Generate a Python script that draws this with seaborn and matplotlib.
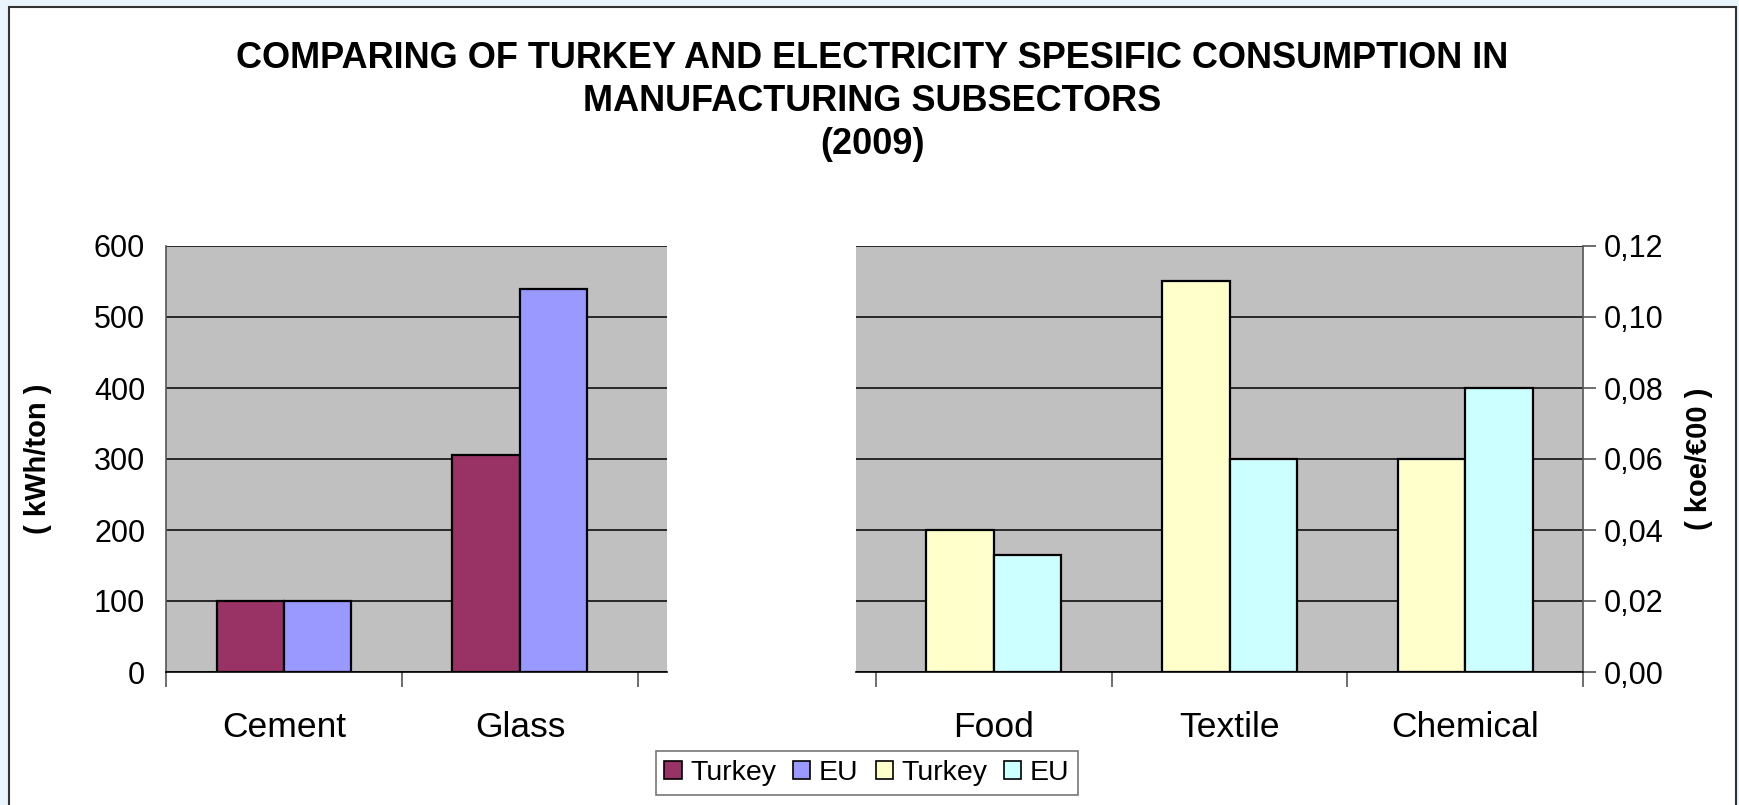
import matplotlib
matplotlib.use("Agg")
import matplotlib.pyplot as plt
import matplotlib.patches as mpatches
from matplotlib.ticker import FuncFormatter, FixedLocator
import seaborn as sns
import pandas as pd

# left chart: electricity (kWh/ton)
left_sectors = ['Cement', 'Glass']
left_turkey = [100, 306]
left_eu = [100, 540]

# right chart: energy (koe/€000)
right_sectors = ['Food', 'Textile', 'Chemical']
right_turkey = [0.040, 0.110, 0.060]
right_eu = [0.033, 0.060, 0.080]

left_ticks = [0, 100, 200, 300, 400, 500, 600]
right_ticks = [0.00, 0.02, 0.04, 0.06, 0.08, 0.10, 0.12]

left_colors = ['#993366', '#9999FF']
right_colors = ['#FFFFCC', '#CCFFFF']

left_df = pd.DataFrame({
    'sector': left_sectors * 2,
    'country': ['Turkey'] * len(left_sectors) + ['EU'] * len(left_sectors),
    'value': left_turkey + left_eu,
})
right_df = pd.DataFrame({
    'sector': right_sectors * 2,
    'country': ['Turkey'] * len(right_sectors) + ['EU'] * len(right_sectors),
    'value': right_turkey + right_eu,
})

sns.set_style("white")
plt.rcParams['font.family'] = ['Liberation Sans', 'DejaVu Sans']
plt.rcParams['text.color'] = 'black'
plt.rcParams['axes.labelcolor'] = 'black'
plt.rcParams['xtick.color'] = 'black'
plt.rcParams['ytick.color'] = 'black'

fig = plt.figure(figsize=(17.39, 8.05), dpi=100, facecolor='#EAF4FC')
# white chart area with dark frame
fig.patches.append(mpatches.Rectangle((9 / 1739, -0.01), 1727 / 1739, 1 - 7 / 805 + 0.01,
                                      transform=fig.transFigure, facecolor='white',
                                      edgecolor='#333333', linewidth=1.5, zorder=-1))

ax1 = fig.add_axes([166 / 1739, 1 - 672 / 805, 501 / 1739, 426 / 805])
ax2 = fig.add_axes([856 / 1739, 1 - 672 / 805, 727 / 1739, 426 / 805])

sns.barplot(data=left_df, x='sector', y='value', hue='country', palette=left_colors,
            saturation=1, width=0.572, edgecolor='black', linewidth=1.6, legend=False,
            ax=ax1, zorder=3)
sns.barplot(data=right_df, x='sector', y='value', hue='country', palette=right_colors,
            saturation=1, width=0.572, edgecolor='black', linewidth=1.6, legend=False,
            ax=ax2, zorder=3)

for ax, ticks, n in [(ax1, left_ticks, len(left_sectors)), (ax2, right_ticks, len(right_sectors))]:
    ax.set_facecolor('#C0C0C0')
    ax.set_ylim(ticks[0], ticks[-1])
    ax.set_yticks(ticks)
    ax.grid(axis='y', color='black', linewidth=1.1, zorder=1)
    ax.set_axisbelow(True)
    ax.set_xlabel('')
    ax.xaxis.set_minor_locator(FixedLocator([i - 0.5 for i in range(n + 1)]))
    ax.tick_params(axis='x', which='major', length=0, pad=28, labelsize=25.5)
    ax.tick_params(axis='x', which='minor', length=11, width=1.2, color='#555555', bottom=True)
    ax.tick_params(axis='y', length=9, width=1.2, color='#555555', labelsize=22, pad=6)
    ax.spines['top'].set_visible(False)
    ax.spines['bottom'].set_color('black')
    ax.spines['bottom'].set_linewidth(1.2)

ax1.set_xlim(-0.5, 1.623)
ax1.spines['right'].set_visible(False)
ax1.spines['left'].set_color('#555555')
ax1.spines['left'].set_linewidth(1.2)
ax1.set_ylabel('( kWh/ton )', fontsize=21, fontweight='bold', labelpad=30)

ax2.set_xlim(-0.585, 2.5)
ax2.spines['left'].set_visible(False)
ax2.spines['right'].set_color('#555555')
ax2.spines['right'].set_linewidth(1.2)
ax2.yaxis.tick_right()
ax2.yaxis.set_label_position('right')
ax2.yaxis.set_major_formatter(FuncFormatter(lambda v, p: f'{v:.2f}'.replace('.', ',')))
ax2.set_ylabel('( koe/€00 )', fontsize=21, fontweight='bold', rotation=90, labelpad=15)

fig.text(0.5015, 1 - 41 / 805,
         'COMPARING OF TURKEY AND ELECTRICITY SPESIFIC CONSUMPTION IN\nMANUFACTURING SUBSECTORS\n(2009)',
         ha='center', va='top', fontsize=26, fontweight='bold', linespacing=1.3)

handles = [mpatches.Patch(facecolor=c, edgecolor='black', linewidth=1.2, label=l)
           for c, l in zip(left_colors + right_colors, ['Turkey', 'EU', 'Turkey', 'EU'])]
leg = fig.legend(handles=handles, loc='center', bbox_to_anchor=(867 / 1739, 1 - 773 / 805),
                 ncol=4, fontsize=20.5, frameon=True, fancybox=False, handlelength=0.6,
                 handleheight=0.6, handletextpad=0.3, columnspacing=0.6, borderpad=0.3)
leg.get_frame().set_edgecolor('#555555')
leg.get_frame().set_linewidth(1.2)

fig.savefig('out.png', dpi=100, facecolor=fig.get_facecolor())
